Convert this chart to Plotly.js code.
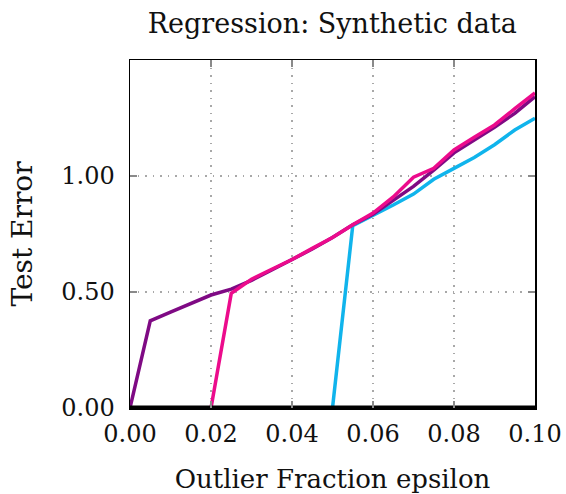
<!DOCTYPE html>
<html>
<head>
<meta charset="utf-8">
<script src="https://cdn.plot.ly/plotly-3.0.1.min.js"></script>
<style>html,body{margin:0;padding:0;background:#fff;}#chart{width:566px;height:494px;}</style>
</head>
<body>
<div id="chart"></div>
<script>
const epsilon = [0, 0.005, 0.01, 0.015, 0.02, 0.025, 0.03, 0.035, 0.04, 0.045, 0.05, 0.055, 0.06, 0.065, 0.07, 0.075, 0.08, 0.085, 0.09, 0.095, 0.1];
const purpleErr = [0, 0.376, 0.413, 0.45, 0.487, 0.512, 0.55, 0.595, 0.638, 0.685, 0.735, 0.79, 0.835, 0.895, 0.955, 1.025, 1.10, 1.155, 1.21, 1.27, 1.342];
const pinkErr = [0, 0, 0, 0, 0, 0.494, 0.555, 0.598, 0.64, 0.688, 0.735, 0.79, 0.84, 0.91, 0.995, 1.033, 1.112, 1.167, 1.22, 1.29, 1.358];
const cyanErr = [0, 0, 0, 0, 0, 0, 0, 0, 0, 0, 0, 0.786, 0.829, 0.875, 0.922, 0.986, 1.033, 1.08, 1.135, 1.198, 1.249];
const blackErr = [0, 0, 0, 0, 0, 0, 0, 0, 0, 0, 0, 0, 0, 0, 0, 0, 0, 0, 0, 0, 0];
const xTicks = [0, 0.02, 0.04, 0.06, 0.08, 0.1];
const xTickText = ["0.00", "0.02", "0.04", "0.06", "0.08", "0.10"];
const yTicks = [0, 0.5, 1.0];
const yTickText = ["0.00", "0.50", "1.00"];

const font = "DejaVu Serif, serif";
const traces = [
  {x: epsilon, y: cyanErr, mode: 'lines', line: {color: '#10b4ec', width: 3.5}, cliponaxis: false},
  {x: epsilon, y: purpleErr, mode: 'lines', line: {color: '#7f0a84', width: 3.5}, cliponaxis: false},
  {x: epsilon, y: pinkErr, mode: 'lines', line: {color: '#ec0b8c', width: 3.5}, cliponaxis: false},
  {x: epsilon, y: blackErr, mode: 'lines', line: {color: '#000000', width: 5}, cliponaxis: false}
];
const axisCommon = {
  showline: true, linecolor: '#000', linewidth: 1.5, mirror: 'ticks',
  ticks: 'inside', ticklen: 7, tickcolor: '#8a8a8a', tickwidth: 1.2,
  showgrid: true, gridcolor: '#a8a8a8', griddash: '1.5px,6px', gridwidth: 1.5,
  zeroline: false, tickfont: {family: font, size: 24, color: '#111'}
};
const layout = {
  width: 566, height: 494,
  margin: {l: 130, r: 31, t: 60, b: 86},
  paper_bgcolor: '#fff', plot_bgcolor: '#fff',
  showlegend: false,
  title: {text: 'Regression: Synthetic data', font: {family: font, size: 27, color: '#111'}, x: 0.587, xanchor: 'center', y: 0.953, yanchor: 'middle'},
  xaxis: Object.assign({}, axisCommon, {range: [0, 0.1], tickvals: xTicks, ticktext: xTickText, ticklabelstandoff: 4,
    title: {text: 'Outlier Fraction epsilon', font: {family: font, size: 26, color: '#111'}, standoff: 22}}),
  yaxis: Object.assign({}, axisCommon, {range: [0, 1.5], tickvals: yTicks, ticktext: yTickText, ticklabelstandoff: 9,
    title: {text: 'Test Error', font: {family: font, size: 28, color: '#111'}, standoff: 20}})
};
Plotly.newPlot('chart', traces, layout, {displayModeBar: false, staticPlot: true});
</script>
</body>
</html>
